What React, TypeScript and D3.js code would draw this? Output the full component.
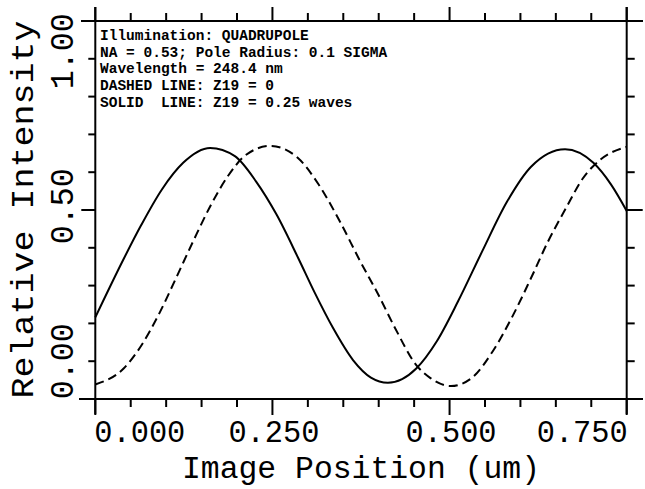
import React from "react";
import * as d3 from "d3";

const annotationLines = [
  "Illumination: QUADRUPOLE",
  "NA = 0.53; Pole Radius: 0.1 SIGMA",
  "Wavelength = 248.4 nm",
  "DASHED LINE: Z19 = 0",
  "SOLID  LINE: Z19 = 0.25 waves",
];

const xTickLabels = ["0.000", "0.250", "0.500", "0.750"];
const xTickValues = [0, 0.25, 0.5, 0.75];
const yTickLabels = ["0.00", "0.50", "1.00"];
const yTickValues = [0, 0.5, 1.0];

const solidX = [0, 0.04, 0.065, 0.094, 0.124, 0.162, 0.197, 0.227, 0.256, 0.286, 0.31, 0.335, 0.364, 0.389, 0.413, 0.433, 0.453, 0.482, 0.512, 0.546, 0.581, 0.615, 0.663, 0.703, 0.728, 0.75];
const solidY = [0.145, 0.338, 0.451, 0.568, 0.656, 0.705, 0.678, 0.594, 0.484, 0.343, 0.225, 0.112, 0.003, -0.054, -0.071, -0.059, -0.024, 0.066, 0.198, 0.363, 0.527, 0.643, 0.701, 0.656, 0.584, 0.497];

const dashedX = [0, 0.04, 0.065, 0.089, 0.114, 0.138, 0.163, 0.188, 0.212, 0.247, 0.286, 0.315, 0.345, 0.374, 0.399, 0.423, 0.453, 0.473, 0.502, 0.531, 0.561, 0.59, 0.615, 0.639, 0.664, 0.688, 0.713, 0.75];
const dashedY = [-0.077, -0.024, 0.052, 0.152, 0.275, 0.396, 0.516, 0.615, 0.681, 0.712, 0.672, 0.585, 0.463, 0.33, 0.222, 0.11, -0.013, -0.056, -0.082, -0.056, 0.033, 0.154, 0.275, 0.396, 0.505, 0.604, 0.667, 0.709];

const W = 645;
const H = 489;
const L = 95.3, R = 626.7, T = 21, B = 399;

export default function App() {
  const x = d3.scaleLinear().domain([0, 0.75]).range([L, R]);
  const y = d3.scaleLinear().domain([-0.125, 1.125]).range([B, T]);

  const xMinor = d3.range(0, 0.7501, 0.05);
  const yMinor = d3.range(0, 1.0001, 0.125);
  const isMajorX = (v: number) => xTickValues.some((m) => Math.abs(m - v) < 1e-6);
  const isMajorY = (v: number) => Math.abs(v - 0.5) < 1e-6;

  const line = d3
    .line<[number, number]>()
    .x((d) => x(d[0]))
    .y((d) => y(d[1]))
    .curve(d3.curveMonotoneX);

  const solid = line(solidX.map((v, i) => [v, solidY[i]] as [number, number])) || "";
  const dashed = line(dashedX.map((v, i) => [v, dashedY[i]] as [number, number])) || "";

  const mono = "'Liberation Mono', 'DejaVu Sans Mono', monospace";
  const sw = 2;

  return (
    <svg
      width={W}
      height={H}
      viewBox={`0 0 ${W} ${H}`}
      style={{ position: "absolute", left: 0, top: 0, background: "#fff" }}
    >
      <rect x={0} y={0} width={W} height={H} fill="#fff" />
      {/* frame */}
      <g stroke="#000" strokeWidth={sw} fill="none">
        <line x1={81} x2={643} y1={T} y2={T} />
        <line x1={79} x2={643} y1={B} y2={B} />
        <line x1={L} x2={L} y1={7} y2={414} />
        <line x1={R} x2={R} y1={7} y2={414} />
        {xMinor.map((v, i) => (
          <g key={"xt" + i}>
            <line x1={x(v)} x2={x(v)} y1={B} y2={B + (isMajorX(v) ? 16 : 8)} />
            <line x1={x(v)} x2={x(v)} y1={T} y2={T - (isMajorX(v) ? 14 : 8)} />
          </g>
        ))}
        {yMinor.map((v, i) => (
          <g key={"yt" + i}>
            <line x1={L} x2={L - (isMajorY(v) ? 14 : 7)} y1={y(v)} y2={y(v)} />
            <line x1={R} x2={R + (isMajorY(v) ? 16 : 8)} y1={y(v)} y2={y(v)} />
          </g>
        ))}
      </g>

      {/* curves */}
      <path d={dashed} fill="none" stroke="#000" strokeWidth={2} strokeDasharray="9,5" />
      <path d={solid} fill="none" stroke="#000" strokeWidth={2} />

      {/* x tick labels */}
      {xTickValues.map((v, i) => {
        const anchor = i === 0 ? "start" : i === xTickValues.length - 1 ? "end" : "middle";
        const cx = i === 0 ? x(v) - 1 : i === xTickValues.length - 1 ? x(v) + 1 : x(v) + 1.5;
        return (
          <text
            key={"xl" + i}
            x={cx}
            y={442}
            fontFamily={mono}
            fontSize={32}
            textAnchor={anchor}
            textLength={91}
            lengthAdjust="spacingAndGlyphs"
            fill="#000"
          >
            {xTickLabels[i]}
          </text>
        );
      })}

      {/* y tick labels */}
      {yTickValues.map((v, i) => {
        const cy = y(v) - 7.5 * v;
        return (
          <text
            key={"yl" + i}
            transform={`translate(73,${cy}) rotate(-90)`}
            fontFamily={mono}
            fontSize={33}
            textAnchor="middle"
            textLength={76}
            lengthAdjust="spacingAndGlyphs"
            fill="#000"
          >
            {yTickLabels[i]}
          </text>
        );
      })}

      {/* axis titles */}
      <text
        x={(L + R) / 2}
        y={478}
        fontFamily={mono}
        fontSize={31}
        textAnchor="middle"
        textLength={358}
        lengthAdjust="spacingAndGlyphs"
        fill="#000"
        style={{ whiteSpace: "pre" }}
      >
        Image Position (um)
      </text>
      <text
        transform={`translate(33,${(22 + 397) / 2}) rotate(-90)`}
        fontFamily={mono}
        fontSize={31}
        textAnchor="middle"
        textLength={378}
        lengthAdjust="spacingAndGlyphs"
        fill="#000"
        style={{ whiteSpace: "pre" }}
      >
        Relative Intensity
      </text>

      {/* annotation */}
      {annotationLines.map((s, i) => (
        <text
          key={"an" + i}
          x={100}
          y={40 + i * 16.7}
          fontFamily={mono}
          fontSize={14}
          fontWeight="bold"
          textLength={s.length * 8.7}
          lengthAdjust="spacingAndGlyphs"
          fill="#000"
          style={{ whiteSpace: "pre" }}
        >
          {s}
        </text>
      ))}
    </svg>
  );
}
